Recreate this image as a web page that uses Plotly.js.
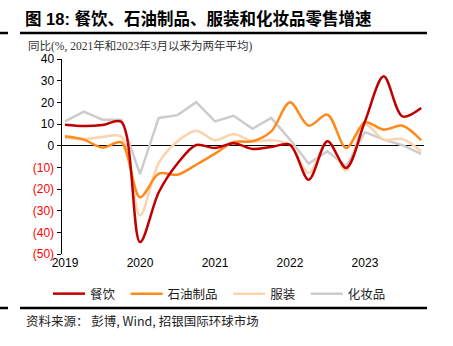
<!DOCTYPE html>
<html><head><meta charset="utf-8">
<script src="https://cdn.plot.ly/plotly-3.0.1.min.js"></script>
<style>body{margin:0;padding:0;background:#fff}#chart{width:453px;height:346px}</style>
</head><body><div id="chart"></div>
<script>
// quarterly, 2019Q1 .. 2023Q4
const quarters = ["2019Q1","2019Q2","2019Q3","2019Q4","2020Q1","2020Q2","2020Q3","2020Q4","2021Q1","2021Q2","2021Q3","2021Q4","2022Q1","2022Q2","2022Q3","2022Q4","2023Q1","2023Q2","2023Q3","2023Q4"];
const catering  = [9.7, 9.1, 9.5, 11.0, -44.5, -21.5, -8.2, 0.3, -1.1, 1.1, -1.5, -0.6, 0.4, -15.7, 2.0, -10.3, 11.2, 32.0, 13.5, 17.4];
const petroleum = [4.3, 2.8, -0.9, 1.5, -23.8, -12.9, -13.4, -8.8, -3.7, 1.7, 2.0, 6.6, 20.0, 9.2, 14.3, -1.1, 10.8, 7.4, 9.2, 2.5];
const apparel   = [3.5, 3.1, 4.0, 4.2, -32.1, -8.0, 2.0, 6.9, 2.5, 5.4, 2.0, 2.5, 0.5, -12.6, 2.0, -11.4, 9.7, 2.8, 3.1, -2.6];
const cosmetics = [11.2, 15.7, 12.0, 12.0, -13.1, 12.8, 14.1, 20.1, 11.2, 13.8, 7.8, 12.8, 2.8, -8.3, -2.6, -9.5, 6.3, 2.8, 0.2, -3.8];
const seriesNames = ["餐饮", "石油制品", "服装", "化妆品"];
const yearLabels = ["2019", "2020", "2021", "2022", "2023"];
const yTickVals = [40, 30, 20, 10, 0, -10, -20, -30, -40, -50];

const idx = quarters.map((q, i) => i);
const yearIdx = yearLabels.map(y => quarters.indexOf(y + "Q1"));
const yTickText = yTickVals.map(v => v < 0 ? '<span style="color:#FF0000">(' + (-v) + ')</span>' : String(v));

const W = 453, H = 346, L = 62, R = 29, T = 59, B = 92;
const pw = W - L - R, ph = H - T - B;
const px = x => (x - L) / pw;
const py = y => (H - B - y) / ph;

const colors = ["#C00000", "#FF8A1C", "#FBD3AE", "#CCCCCC"];
const vals = [catering, petroleum, apparel, cosmetics];
const order = [3, 2, 1, 0];
const traces = [];
// draw gray first, red last, but keep legend order
order.forEach(k => {
  traces.push({
    x: idx, y: vals[k], type: 'scatter', mode: 'lines', name: seriesNames[k] + '\u00a0\u00a0',
    line: {color: colors[k], width: 2.5, shape: k === 3 ? 'linear' : 'spline', smoothing: 0.9},
    legendrank: k + 1
  });
});

const cjk = '"Noto Sans CJK SC", "Liberation Sans", sans-serif';
const layout = {
  width: W, height: H,
  margin: {l: L, r: R, t: T, b: B, pad: 0},
  paper_bgcolor: '#fff', plot_bgcolor: '#fff',
  showlegend: true,
  title: {
    text: '<b>图 18: 餐饮、石油制品、服装和化妆品零售增速</b>',
    font: {family: '"Liberation Sans", "Noto Sans CJK SC", sans-serif', size: 16.5, color: '#000'},
    x: 25 / W, xanchor: 'left', xref: 'container',
    y: 1 - 19 / H, yanchor: 'middle', yref: 'container'
  },
  xaxis: {
    range: [-0.16, 19.15], tickmode: 'array', tickvals: yearIdx, ticktext: yearLabels,
    showline: false, ticks: '', showgrid: false, zeroline: false,
    tickfont: {family: '"Liberation Sans", Arial, sans-serif', size: 12, color: '#000'}
  },
  xaxis2: {
    overlaying: 'x', anchor: 'free', position: 50 / 90, side: 'bottom',
    range: [-0.16, 19.15], tickmode: 'array', tickvals: yearIdx,
    showticklabels: false, showline: true, linecolor: '#000', linewidth: 1.5,
    ticks: 'outside', ticklen: 3, tickcolor: '#000', tickwidth: 1, showgrid: false, zeroline: false
  },
  yaxis: {
    range: [-50, 40], tickmode: 'array', tickvals: yTickVals, ticktext: yTickText,
    showline: true, linecolor: '#000', linewidth: 1.5, ticks: 'outside', ticklen: 4,
    tickcolor: '#000', tickwidth: 1, showgrid: false, zeroline: true, zerolinecolor: '#000', zerolinewidth: 1.5,
    tickfont: {family: '"Liberation Sans", Arial, sans-serif', size: 12, color: '#000'}
  },
  legend: {
    orientation: 'h', x: px(48), xanchor: 'left', y: py(294), yanchor: 'middle',
    font: {family: cjk, size: 12.5, color: '#222'}, itemwidth: 32, traceorder: 'normal',
    bgcolor: 'rgba(0,0,0,0)'
  },
  shapes: [
    {type: 'line', xref: 'paper', yref: 'paper', x0: px(20), x1: px(427), y0: py(33), y1: py(33), line: {color: '#000', width: 2.5}},
    {type: 'line', xref: 'paper', yref: 'paper', x0: px(0), x1: px(8), y0: py(33), y1: py(33), line: {color: '#000', width: 2.5}},
    {type: 'line', xref: 'paper', yref: 'paper', x0: px(20), x1: px(427), y0: py(308), y1: py(308), line: {color: '#000', width: 2.5}},
    {type: 'line', xref: 'paper', yref: 'paper', x0: px(0), x1: px(8), y0: py(308), y1: py(308), line: {color: '#000', width: 2.5}}
  ],
  annotations: [
    {text: '同比(%, 2021年和2023年3月以来为两年平均)', xref: 'paper', yref: 'paper', x: px(26), y: py(45.5),
     xanchor: 'left', yanchor: 'middle', showarrow: false,
     font: {family: '"Liberation Serif", "Noto Sans CJK SC", serif', size: 11.5, color: '#333'}},
    {text: '资料来源： 彭博, Wind, 招银国际环球市场', xref: 'paper', yref: 'paper', x: px(24), y: py(320),
     xanchor: 'left', yanchor: 'middle', showarrow: false,
     font: {family: cjk, size: 12.5, color: '#222'}}
  ]
};
Plotly.newPlot('chart', traces, layout, {displayModeBar: false, staticPlot: true});
</script></body></html>
